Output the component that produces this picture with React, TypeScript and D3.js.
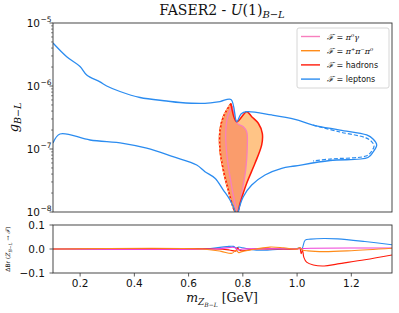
import React from 'react';
import * as d3 from 'd3';

// ---------- data ----------
const xTicks = [0.2, 0.4, 0.6, 0.8, 1.0, 1.2];
const yMainExps = [-5, -6, -7, -8];
const yLowTicks = [0.1, 0.0, -0.1];

// leptons contour (m [GeV], g)
const leptonsSolid: [number, number][] = [
  [0.100, 4.82e-6], [0.1505, 2.92e-6], [0.1996, 2.04e-6], [0.2243, 1.50e-6], [0.2733, 1.16e-6],
  [0.2980, 1.00e-6], [0.3470, 8.18e-7], [0.4208, 6.57e-7], [0.5192, 5.78e-7], [0.5683, 5.47e-7],
  [0.6604, 5.31e-7], [0.7158, 5.67e-7], [0.7563, 6.11e-7], [0.7774, 2.71e-7], [0.7932, 3.60e-7],
  [0.8142, 3.91e-7], [0.9064, 3.47e-7], [0.9923, 2.96e-7], [1.0587, 2.40e-7], [1.1583, 2.00e-7],
  [1.2567, 1.67e-7], [1.2800, 1.44e-7], [1.2936, 1.16e-7], [1.2800, 8.95e-8], [1.2615, 7.33e-8],
  [1.1215, 6.57e-8], [0.9923, 5.37e-8], [0.9433, 4.94e-8], [0.8817, 3.87e-8], [0.8327, 2.68e-8],
  [0.8017, 1.75e-8], [0.7833, 1.01e-8], [0.7785, 7.0e-9], [0.7711, 7.0e-9], [0.7711, 1.01e-8],
  [0.7527, 1.55e-8], [0.7280, 2.23e-8], [0.6973, 3.43e-8], [0.6604, 4.36e-8], [0.6299, 5.57e-8],
  [0.5425, 7.55e-8], [0.4455, 1.03e-7], [0.3581, 1.23e-7], [0.2364, 1.39e-7], [0.1258, 1.73e-7],
  [0.100, 1.24e-7],
];
const leptonsDashed: [number, number][] = [
  [1.0587, 2.40e-7], [1.1583, 1.86e-7], [1.2541, 1.50e-7], [1.2763, 1.29e-7], [1.2837, 1.12e-7],
  [1.2726, 8.95e-8], [1.2541, 7.74e-8], [1.1215, 6.93e-8], [1.0587, 6.45e-8],
];
// hadrons contour
const hadrons: [number, number][] = [
  [0.7563, 5.31e-7], [0.7774, 2.71e-7], [0.8142, 3.91e-7], [0.8327, 3.26e-7], [0.8570, 2.56e-7],
  [0.8718, 1.77e-7], [0.8695, 1.16e-7], [0.8448, 5.93e-8], [0.8142, 2.86e-8], [0.7895, 1.37e-8],
  [0.7796, 9.6e-9], [0.7711, 1.01e-8], [0.7464, 2.23e-8], [0.7280, 4.64e-8], [0.7158, 9.63e-8],
  [0.7158, 2.00e-7], [0.7280, 3.26e-7], [0.7563, 5.31e-7],
];
const hadronsLeft: [number, number][] = [
  [0.7796, 9.6e-9], [0.7711, 1.01e-8], [0.7464, 2.23e-8], [0.7280, 4.64e-8], [0.7158, 9.63e-8],
  [0.7158, 2.00e-7], [0.7280, 3.26e-7], [0.7563, 5.31e-7],
];
// pi0 gamma contour
const pi0gamma: [number, number][] = [
  [0.7611, 4.82e-7], [0.7796, 2.56e-7], [0.8017, 2.26e-7], [0.8142, 1.88e-7], [0.8164, 1.09e-7],
  [0.8105, 4.64e-8], [0.7958, 1.98e-8], [0.7811, 1.01e-8], [0.7685, 1.55e-8], [0.7527, 3.63e-8],
  [0.7405, 8.55e-8], [0.7368, 1.77e-7], [0.7442, 3.26e-7], [0.7611, 4.82e-7],
];
// 3 pion region (left band + interior)
const threePi: [number, number][] = [
  [0.7563, 5.31e-7], [0.7796, 2.56e-7], [0.8017, 2.26e-7], [0.8142, 1.88e-7], [0.8164, 1.09e-7],
  [0.8105, 4.64e-8], [0.7958, 1.98e-8], [0.7811, 1.01e-8], [0.7711, 1.01e-8], [0.7464, 2.23e-8],
  [0.7280, 4.64e-8], [0.7158, 9.63e-8], [0.7158, 2.00e-7], [0.7280, 3.26e-7], [0.7563, 5.31e-7],
];

// lower panel: Delta Br
const dBrLeptons: [number, number][] = [
  [0.1, 0], [0.6, 0], [0.68, 0.002], [0.74, 0.01], [0.765, 0.011], [0.775, 0.004], [0.785, 0.008],
  [0.8, 0.005], [0.85, -0.005], [0.9, -0.004], [0.95, 0], [1.0, 0.002], [1.01, 0.006], [1.015, -0.004],
  [1.02, 0.005], [1.03, 0.037], [1.05, 0.041], [1.1, 0.044], [1.15, 0.042], [1.25, 0.031], [1.35, 0.018],
];
const dBrHadrons: [number, number][] = [
  [0.1, 0], [0.7, 0], [0.75, -0.004], [0.775, -0.008], [0.78, 0.005], [0.79, -0.006], [0.85, 0],
  [1.0, 0], [1.01, 0.003], [1.015, -0.02], [1.02, -0.004], [1.025, -0.035], [1.035, -0.055],
  [1.06, -0.067], [1.1, -0.071], [1.15, -0.062], [1.25, -0.045], [1.35, -0.025],
];
const dBrThreePi: [number, number][] = [
  [0.1, 0], [0.65, 0], [0.72, -0.01], [0.76, -0.018], [0.775, -0.005], [0.785, -0.015], [0.8, -0.01],
  [0.85, 0], [0.9, 0.008], [0.95, 0.005], [1.0, 0], [1.01, 0.006], [1.02, -0.004], [1.04, -0.008],
  [1.1, -0.011], [1.2, -0.007], [1.35, 0.003],
];
const dBrPi0gamma: [number, number][] = [
  [0.1, 0], [0.7, 0], [0.77, 0.006], [0.78, -0.004], [0.8, 0], [1.0, 0.001], [1.05, 0.003], [1.35, 0.004],
];

const legendLabels = ['π⁰γ', 'π⁺π⁻π⁰', 'hadrons', 'leptons'];
const colors = { pink: '#f77fbe', orange: '#ff8c1a', red: '#ff1a0a', blue: '#2b8cf0' };

// ---------- layout ----------
const W = 399, H = 313;
const L = 53, R = 392;
const mainTop = 23, mainBot = 212;
const lowTop = 225, lowBot = 273;

export default function App() {
  const x = d3.scaleLinear().domain([0.1, 1.35]).range([L, R]);
  const y = d3.scaleLog().domain([1e-8, 1e-5]).range([mainBot, mainTop]);
  const yl = d3.scaleLinear().domain([-0.1, 0.1]).range([lowBot, lowTop]);

  const curve = d3.curveCatmullRom.alpha(0.5);
  const line = d3.line<[number, number]>().x(d => x(d[0])).y(d => y(d[1])).curve(curve);
  const lineLow = d3.line<[number, number]>().x(d => x(d[0])).y(d => yl(d[1])).curve(curve);

  const minor: number[] = [];
  for (let e = -8; e < -5; e++) for (let k = 2; k <= 9; k++) minor.push(k * Math.pow(10, e));

  const serif = "'DejaVu Serif', serif";
  const sans = "'DejaVu Sans', sans-serif";
  const legendColors = [colors.pink, colors.orange, colors.red, colors.blue];

  return (
    <svg width={W} height={H} style={{ position: 'absolute', left: 0, top: 0, background: '#fff' }}>
      <defs>
        <clipPath id="clipMain"><rect x={L} y={mainTop} width={R - L} height={mainBot - mainTop} /></clipPath>
        <clipPath id="clipLow"><rect x={L} y={lowTop} width={R - L} height={lowBot - lowTop} /></clipPath>
      </defs>

      {/* title */}
      <text x={222} y={15} textAnchor="middle" fontFamily={serif} fontSize={14} fill="#111">
        FASER2 - <tspan fontStyle="italic">U</tspan>(1)<tspan fontStyle="italic" fontSize={10} dy={3}>B−L</tspan>
      </text>

      {/* main panel */}
      <g clipPath="url(#clipMain)">
        <path d={line(hadrons) || ''} fill="#ffc486" stroke="none" />
        <path d={line(threePi) || ''} fill="#fa9c6c" stroke="none" />
        <path d={line(pi0gamma) || ''} fill="none" stroke={colors.pink} strokeWidth={1.3} />
        <path d={line(hadronsLeft) || ''} fill="none" stroke={colors.orange} strokeWidth={1.5} />
        <path d={line(hadrons) || ''} fill="none" stroke={colors.red} strokeWidth={1.5} />
        <path d={line(hadronsLeft) || ''} fill="none" stroke="#ffc486" strokeWidth={1.6} strokeDasharray="2,2" strokeDashoffset={1} />
        <path d={line(leptonsSolid) || ''} fill="none" stroke={colors.blue} strokeWidth={1.3} />
        <path d={line(leptonsDashed) || ''} fill="none" stroke={colors.blue} strokeWidth={1.2} strokeDasharray="4,2" />
      </g>
      <rect x={L} y={mainTop} width={R - L} height={mainBot - mainTop} fill="none" stroke="#333" strokeWidth={0.9} />
      {yMainExps.map(e => (
        <g key={e}>
          <line x1={L - 3.5} x2={L} y1={y(Math.pow(10, e))} y2={y(Math.pow(10, e))} stroke="#333" strokeWidth={0.8} />
          <text x={40} y={y(Math.pow(10, e)) + 4} textAnchor="end" fontFamily={sans} fontSize={10.5} fill="#111">10</text>
          <text x={40.5} y={y(Math.pow(10, e)) - 1.5} textAnchor="start" fontFamily={sans} fontSize={7.5} fill="#111">{'−' + Math.abs(e)}</text>
        </g>
      ))}
      {minor.map((v, i) => (
        <line key={i} x1={L - 2} x2={L} y1={y(v)} y2={y(v)} stroke="#333" strokeWidth={0.6} />
      ))}
      <text transform={`translate(18,${(mainTop + mainBot) / 2}) rotate(-90)`} textAnchor="middle" fontFamily={serif} fontSize={13} fill="#111">
        <tspan fontStyle="italic">g</tspan><tspan fontStyle="italic" fontSize={9.5} dy={3}>B−L</tspan>
      </text>

      {/* legend */}
      <rect x={297} y={28} width={92} height={60} rx={2} fill="#fff" fillOpacity={0.85} stroke="#ccc" strokeWidth={0.8} />
      {legendLabels.map((lab, i) => {
        const ly = 36.5 + i * 14.2;
        return (
          <g key={lab}>
            <line x1={301} x2={320} y1={ly} y2={ly} stroke={legendColors[i]} strokeWidth={1.4} />
            <text x={327} y={ly + 3} fontFamily={sans} fontSize={8} fill="#111">
              <tspan fontFamily={serif} fontStyle="italic">ℱ</tspan> = {i < 2
                ? <tspan fontFamily={serif} fontStyle="italic">{lab}</tspan>
                : lab}
            </text>
          </g>
        );
      })}

      {/* lower panel */}
      <g clipPath="url(#clipLow)">
        <path d={lineLow(dBrLeptons) || ''} fill="none" stroke={colors.blue} strokeWidth={1.1} />
        <path d={lineLow(dBrHadrons) || ''} fill="none" stroke={colors.red} strokeWidth={1.1} />
        <path d={lineLow(dBrPi0gamma) || ''} fill="none" stroke="#ee3fd8" strokeWidth={1.1} />
        <path d={lineLow(dBrThreePi) || ''} fill="none" stroke={colors.orange} strokeWidth={1.1} />
      </g>
      <rect x={L} y={lowTop} width={R - L} height={lowBot - lowTop} fill="none" stroke="#333" strokeWidth={0.9} />
      {yLowTicks.map(v => (
        <g key={v}>
          <line x1={L - 3.5} x2={L} y1={yl(v)} y2={yl(v)} stroke="#333" strokeWidth={0.8} />
          <text x={45} y={yl(v) + 4} textAnchor="end" fontFamily={sans} fontSize={10.5} fill="#111">
            {v < 0 ? '−' + Math.abs(v).toFixed(1) : v.toFixed(1)}
          </text>
        </g>
      ))}
      {xTicks.map(v => (
        <g key={v}>
          <line x1={x(v)} x2={x(v)} y1={lowBot} y2={lowBot + 3.5} stroke="#333" strokeWidth={0.8} />
          <text x={x(v)} y={lowBot + 14} textAnchor="middle" fontFamily={sans} fontSize={10.5} fill="#111">{v.toFixed(1)}</text>
        </g>
      ))}
      <text transform={`translate(10,${(lowTop + lowBot) / 2}) rotate(-90)`} textAnchor="middle" fontFamily={sans} fontSize={6} fill="#111">
        ΔBr <tspan fontFamily={serif}>(</tspan><tspan fontFamily={serif} fontStyle="italic">Z</tspan><tspan fontFamily={serif} fontStyle="italic" fontSize={4.5} dy={1.5}>B−L</tspan><tspan fontFamily={serif} dy={-1.5}> → </tspan><tspan fontFamily={serif} fontStyle="italic">ℱ</tspan><tspan fontFamily={serif}>)</tspan>
      </text>
      <text x={222} y={302} textAnchor="middle" fontFamily={serif} fontSize={12.5} fill="#111">
        <tspan fontStyle="italic">m</tspan><tspan fontStyle="italic" fontSize={9} dy={3}>Z</tspan><tspan fontStyle="italic" fontSize={6} dy={2}>B−L</tspan><tspan dy={-5}> [GeV]</tspan>
      </text>
    </svg>
  );
}
